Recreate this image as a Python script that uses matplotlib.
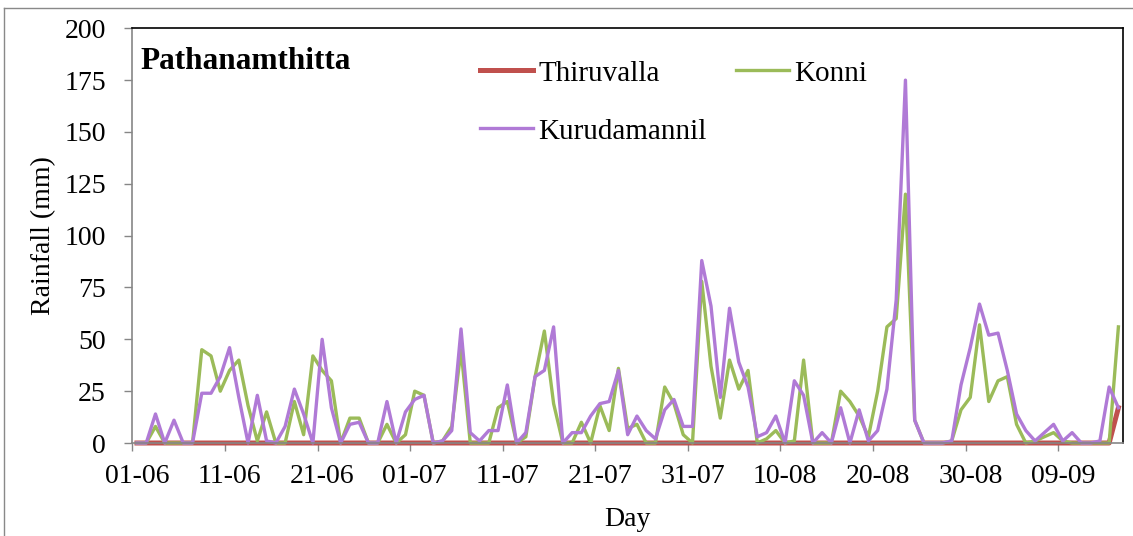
import matplotlib
matplotlib.use("Agg")
import matplotlib.pyplot as plt
from matplotlib.lines import Line2D

plt.rcParams['font.family'] = ['Liberation Serif', 'DejaVu Serif']

# daily rainfall 01-06 .. 15-09
tick_labels = ['01-06', '11-06', '21-06', '01-07', '11-07', '21-07',
               '31-07', '10-08', '20-08', '30-08', '09-09']

konni = [0, 0, 8, 0, 0, 0, 0, 45, 42, 25,
         35, 40, 18, 1, 15, 0, 0, 20, 4, 42,
         35, 30, 0, 12, 12, 0, 0, 9, 0, 4,
         25, 23, 0, 1, 8, 45, 0, 0, 0, 17,
         20, 0, 3, 32, 54, 19, 0, 0, 10, 0,
         18, 6, 36, 7, 9, 0, 0, 27, 19, 4,
         0, 78, 37, 12, 40, 26, 35, 0, 2, 6,
         0, 1, 40, 0, 0, 0, 25, 20, 13, 3,
         25, 56, 60, 120, 11, 0, 0, 0, 1, 16,
         22, 57, 20, 30, 32, 9, 0, 1, 3, 5,
         1, 0, 0, 0, 0, 0, 56]

kurudamannil = [0, 0, 14, 0, 11, 0, 0, 24, 24, 32,
                46, 22, 0, 23, 1, 0, 8, 26, 14, 0,
                50, 17, 0, 9, 10, 0, 0, 20, 0, 15,
                21, 23, 0, 1, 6, 55, 5, 1, 6, 6,
                28, 0, 5, 32, 35, 56, 0, 5, 5, 13,
                19, 20, 35, 4, 13, 6, 2, 16, 21, 8,
                8, 88, 66, 22, 65, 39, 27, 3, 5, 13,
                0, 30, 23, 0, 5, 0, 17, 0, 16, 1,
                6, 26, 69, 175, 11, 0, 0, 0, 1, 28,
                46, 67, 52, 53, 35, 14, 6, 1, 5, 9,
                1, 5, 0, 0, 1, 27, 17]

thiruvalla = [0] * 106 + [17]

days = list(range(len(konni)))

fig = plt.figure(figsize=(11.33, 5.36), dpi=100)
ax = fig.add_axes([0.1168, 0.1735, 0.9912 - 0.1168, 0.9472 - 0.1735])

l1, = ax.plot(days, thiruvalla, color='#C0504D', lw=3.6, clip_on=False)
l2, = ax.plot(days, konni, color='#9BBB59', lw=2.4, clip_on=False)
l3, = ax.plot(days, kurudamannil, color='#B07AD6', lw=2.4, clip_on=False)

ax.set_xlim(-0.5, len(days) - 0.5)
ax.set_ylim(0, 200)
ax.set_yticks(range(0, 201, 25))
ax.set_xticks(range(0, 101, 10))
ax.set_xticklabels(tick_labels)
ax.set_xticks([k - 0.5 for k in range(0, 101, 10)], minor=True)

ax.tick_params(axis='x', which='major', length=0, pad=15, labelsize=20)
ax.tick_params(axis='x', which='minor', length=6, width=1, color='#868686',
               direction='out')
ax.tick_params(axis='y', length=6, width=1, color='#868686', direction='out',
               pad=13, labelsize=20)

for s in ['left', 'bottom']:
    ax.spines[s].set_color('#868686')
    ax.spines[s].set_linewidth(1.2)
for s in ['top', 'right']:
    ax.spines[s].set_color('black')
    ax.spines[s].set_linewidth(1.2)

ax.set_xlabel('Day', fontsize=20, labelpad=13)
ax.set_ylabel('Rainfall (mm)', fontsize=20, labelpad=6)

ax.text(0.0078, 0.919, 'Pathanamthitta', transform=ax.transAxes,
        fontsize=22.5, fontweight='bold', ha='left', va='center')

ax.legend([l1, l3, l2], ['Thiruvalla', 'Kurudamannil', 'Konni'], ncol=2,
          loc='upper left', bbox_to_anchor=(0.351, 0.923), frameon=False,
          fontsize=21, borderpad=0, handlelength=1.83, handletextpad=0.17,
          columnspacing=1.0, labelspacing=1.08, borderaxespad=0)

# outer chart border (partly visible)
fig.add_artist(Line2D([4 / 1133, 4 / 1133], [0, 1 - 8 / 536],
                      transform=fig.transFigure, color='#898989', lw=1))
fig.add_artist(Line2D([4 / 1133, 1], [1 - 8 / 536, 1 - 8 / 536],
                      transform=fig.transFigure, color='#898989', lw=1))

fig.savefig('out.png', dpi=100)
